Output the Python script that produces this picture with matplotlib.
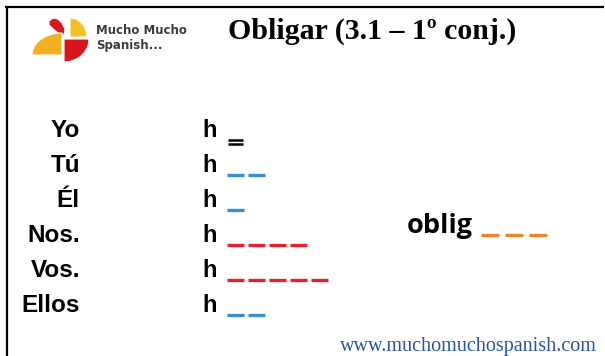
import numpy as np
import matplotlib
matplotlib.use("Agg")
import matplotlib.pyplot as plt
from matplotlib.patches import Polygon

# Slide content
title = "Obligar (3.1 \u2013 1\u00ba conj.)"
pronouns = ["Yo", "Tú", "Él", "Nos.", "Vos.", "Ellos"]
stems = ["h", "h", "h", "h", "h", "h"]
blank_counts = [0, 2, 1, 4, 5, 2]   # Yo gets the "=" sign instead of dashes
blank_colors = ["black", "#3b8fd2", "#3b8fd2", "#e3222b", "#e3222b", "#3b8fd2"]
infinitive_stem = "oblig"
infinitive_blanks = 3
website = "www.muchomuchospanish.com"

fig = plt.figure(figsize=(6.05, 3.56), dpi=100)
ax = fig.add_axes([0, 0, 1, 1])
ax.set_xlim(0, 605)
ax.set_ylim(356, 0)
ax.axis("off")

# frame (top and left edges only visible)
ax.plot([5, 604], [7, 7], color="black", lw=1.6, solid_capstyle="butt")
ax.plot([6.5, 6.5], [7, 356], color="black", lw=1.6, solid_capstyle="butt")


def quarter(cx, cy, rx, ry, a0, a1):
    # quarter ellipse patch in pixel coords (y grows downwards)
    t = np.radians(np.linspace(a0, a1, 30))
    pts = [(cx, cy)] + [(cx + rx * np.cos(a), cy + ry * np.sin(a)) for a in t]
    return pts


# logo
ax.add_patch(Polygon([(49, 21), (53, 18), (58, 19), (62, 23), (65, 29), (64, 35),
                      (58, 33), (52, 28), (49, 25)], closed=True, fc="#d81820", ec="white", lw=0.8))
ax.add_patch(Polygon(quarter(70, 37, 17, 19, 270, 360), closed=True, fc="#f4bf22", ec="white", lw=0.8))
ax.add_patch(Polygon(quarter(62, 55, 30, 22, 180, 270), closed=True, fc="#f3b020", ec="white", lw=0.8))
ax.add_patch(Polygon(quarter(64, 39, 25, 23, 0, 90), closed=True, fc="#d8151d", ec="white", lw=0.8))
ax.text(96, 31, "Mucho Mucho", fontsize=8.5, fontweight="bold", color="#3c3c3c",
        family="DejaVu Sans", va="center", ha="left")
ax.text(96, 46, "Spanish...", fontsize=8.5, fontweight="bold", color="#3c3c3c",
        family="DejaVu Sans", va="center", ha="left")

# title
ax.text(228, 39, title, fontsize=21.5, fontweight="bold", family="Liberation Serif",
        va="baseline", ha="left", color="black")

# conjugation rows
row_top = 137
row_step = 35
pitch = 21
dash_len = 17
for i, (pron, stem, n, col) in enumerate(zip(pronouns, stems, blank_counts, blank_colors)):
    base = row_top + i * row_step
    ax.text(80, base, pron, fontsize=17.5, fontweight="bold", family="Liberation Sans",
            ha="right", va="baseline")
    ax.text(202, base, stem, fontsize=17, fontweight="bold", family="Liberation Sans",
            ha="left", va="baseline")
    if n == 0:
        for yy in (base + 2.5, base + 6.5):
            ax.plot([228, 243], [yy, yy], color=col, lw=1.8, solid_capstyle="butt")
    else:
        for k in range(n):
            x0 = 227 + k * pitch
            ax.plot([x0, x0 + dash_len], [base + 3, base + 3],
                    color=col, lw=2.4, solid_capstyle="butt")

# infinitive
ax.text(407, 233, infinitive_stem, fontsize=19.5, fontweight="bold", family="Open Sans",
        ha="left", va="baseline")
for k in range(infinitive_blanks):
    x0 = 481 + k * 24
    ax.plot([x0, x0 + 18], [235, 235], color="#e8862a", lw=2.4, solid_capstyle="butt")

# website
ax.text(597, 347, website, fontsize=14.5, family="Liberation Serif", color="#2b54a6",
        ha="right", va="center")

fig.savefig("out.png", dpi=100)
